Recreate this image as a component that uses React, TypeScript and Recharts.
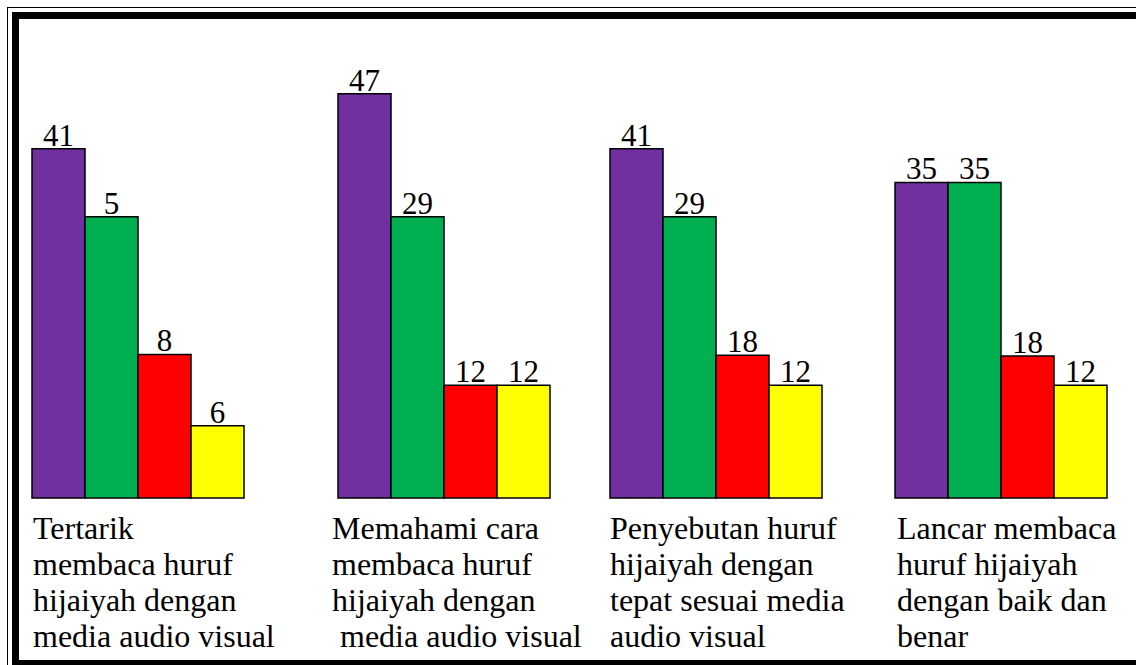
import React from 'react';
import { BarChart, Bar, XAxis, YAxis, LabelList } from 'recharts';

// category captions, one line per entry (as they are broken in the picture)
const categoryLines = [
  ['Tertarik', 'membaca huruf', 'hijaiyah dengan', 'media audio visual'],
  ['Memahami cara', 'membaca huruf', 'hijaiyah dengan', '\u00a0media audio visual'],
  ['Penyebutan huruf', 'hijaiyah dengan', 'tepat sesuai media', 'audio visual'],
  ['Lancar membaca', 'huruf hijaiyah', 'dengan baik dan', 'benar'],
];

// drawn bar heights and the numbers printed on them
const purpleHeight = [40.6, 47.0, 40.6, 36.7];
const greenHeight = [32.7, 32.7, 32.7, 36.7];
const redHeight = [16.7, 13.1, 16.6, 16.5];
const yellowHeight = [8.4, 13.1, 13.1, 13.1];

const purpleLabel = [41, 47, 41, 35];
const greenLabel = [5, 29, 29, 35];
const redLabel = [8, 12, 18, 18];
const yellowLabel = [6, 12, 12, 12];

// layout only
const groupLeft = [32, 338, 610, 895];
const textShift = [1, -6, 0, 2];
const BAR_W = 53;
const PAD_L = 12;
const PAD_R = 90;

const SERIF = '"Liberation Serif", "Times New Roman", serif';

const series = [
  { key: 'purple', label: 'purpleLabel', color: '#7030A0' },
  { key: 'green', label: 'greenLabel', color: '#00B050' },
  { key: 'red', label: 'redLabel', color: '#FF0000' },
  { key: 'yellow', label: 'yellowLabel', color: '#FFFF00' },
];

const GroupTick = (props: any) => {
  const { x, y, lines, shift } = props;
  const left = x - (BAR_W * 4) / 2 + shift;
  return (
    <g>
      {lines.map((line: string, k: number) => (
        <text
          key={k}
          x={left}
          y={y + 41 + k * 36}
          textAnchor="start"
          fontFamily={SERIF}
          fontSize={32}
          fill="#000"
        >
          {line}
        </text>
      ))}
    </g>
  );
};

export default function App() {
  const rows = categoryLines.map((lines, i) => ({
    name: lines.join(' '),
    purple: purpleHeight[i],
    green: greenHeight[i],
    red: redHeight[i],
    yellow: yellowHeight[i],
    purpleLabel: purpleLabel[i],
    greenLabel: greenLabel[i],
    redLabel: redLabel[i],
    yellowLabel: yellowLabel[i],
  }));

  return (
    <div
      style={{
        position: 'absolute',
        left: 0,
        top: 0,
        width: 1136,
        height: 665,
        overflow: 'hidden',
        background: '#fff',
      }}
    >
      {/* double frame: thin outer line, thick inner line */}
      <div
        style={{
          position: 'absolute',
          left: 7,
          top: 7,
          width: 1200,
          height: 700,
          border: '1.5px solid #000',
          boxSizing: 'border-box',
        }}
      />
      <div
        style={{
          position: 'absolute',
          left: 12,
          top: 12,
          width: 1200,
          height: 655,
          border: '7px solid #000',
          boxSizing: 'border-box',
        }}
      />

      {rows.map((row, i) => (
        <div key={i} style={{ position: 'absolute', left: groupLeft[i] - PAD_L, top: 0 }}>
          <BarChart
            width={BAR_W * 4 + PAD_L + PAD_R}
            height={665}
            data={[row]}
            margin={{ top: 68, right: PAD_R, bottom: 0, left: PAD_L }}
            barGap={0}
            barCategoryGap={0}
          >
            <XAxis
              dataKey="name"
              axisLine={false}
              tickLine={false}
              tickSize={0}
              tickMargin={0}
              height={167}
              interval={0}
              tick={<GroupTick lines={categoryLines[i]} shift={textShift[i]} />}
            />
            <YAxis hide domain={[0, 50]} />
            {series.map((s) => (
              <Bar
                key={s.key}
                dataKey={s.key}
                fill={s.color}
                stroke="#000"
                strokeWidth={1.5}
                isAnimationActive={false}
              >
                <LabelList
                  dataKey={s.label}
                  position="top"
                  offset={3}
                  fill="#000"
                  fontFamily={SERIF}
                  fontSize={31}
                />
              </Bar>
            ))}
          </BarChart>
        </div>
      ))}
    </div>
  );
}
